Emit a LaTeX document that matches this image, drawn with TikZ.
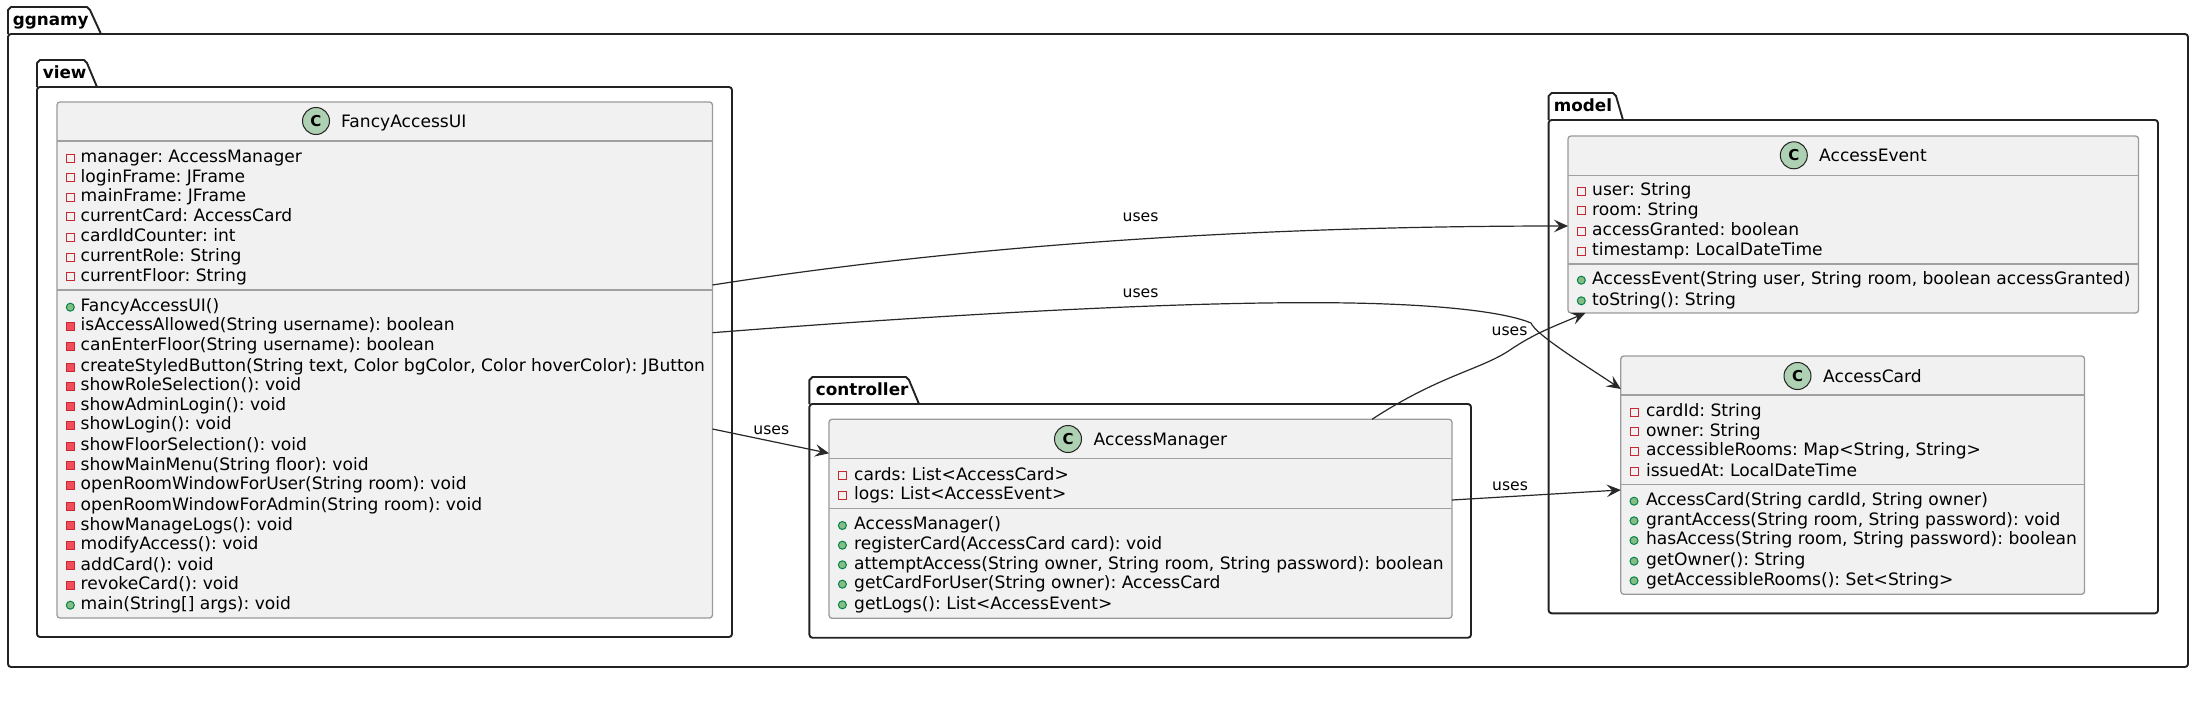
\documentclass[tikz,border=0pt]{standalone}
\usepackage{fontspec}
\setmainfont{DejaVu Sans}
\usetikzlibrary{arrows.meta}
\definecolor{pkgline}{HTML}{222222}
\definecolor{clsline}{HTML}{9A9A9A}
\definecolor{clsfill}{HTML}{F1F1F1}
\definecolor{sepline}{HTML}{A0A0A0}
\definecolor{cfill}{HTML}{ADD1B2}
\definecolor{privline}{HTML}{C82930}
\definecolor{privfill}{HTML}{F24D5C}
\definecolor{publine}{HTML}{038048}
\definecolor{pubfill}{HTML}{84BE84}
\definecolor{edge}{HTML}{282828}
\newcounter{mm}
\newcommand{\mem}[3]{\stepcounter{mm}%
  \node[#1] (ic\themm) at (\ix,#2+1.5) {};
  \node[memtext] (tx\themm) at (\tx,#2+5.7) {#3};}
\newcommand{\pkg}[9]{% name, title, left, tabtop, tabtopright, tabright, tabbottom, right, bottom
  \draw[pkgbox] (#3,#7) -- (#3,#4+3) -- (#3+3,#4) -- (#5-3,#4) -- (#5,#4+3) -- (#6,#7);
  \node[pkgbody,minimum width={#8-#3},minimum height={#9-#7}] (#1) at ({(#3+#8)/2},{(#7+#9)/2}) {};}
\newcommand{\cls}[7]{% name, left, right, top, bottom, head, sep
  \node[clsbox,minimum width={#3-#2},minimum height={#5-#4}] (#1) at ({(#2+#3)/2},{(#4+#5)/2}) {};
  \draw[sepstyle] (#1.west |- 0,#6) -- (#1.east |- 0,#6);
  \draw[sepstyle] (#1.west |- 0,#7) -- (#1.east |- 0,#7);}
\tikzset{
  pkgbox/.style={draw=pkgline,line width=1.9pt,line join=round},
  pkgbody/.style={draw=pkgline,line width=1.9pt,rounded corners=3pt,inner sep=0pt,outer sep=0pt},
  pkgtitle/.style={anchor=base west,inner sep=0pt,font=\fontsize{16.8}{20}\selectfont\bfseries,text=black},
  clsbox/.style={draw=clsline,fill=clsfill,line width=1.3pt,rounded corners=3pt,inner sep=0pt,outer sep=0pt},
  sepstyle/.style={draw=sepline,line width=1.3pt},
  cicon/.style={circle,draw=pkgline,fill=cfill,line width=1pt,minimum size=27pt,inner sep=0pt,font=\fontsize{15}{18}\selectfont\bfseries},
  clsname/.style={anchor=base west,inner sep=0pt,font=\fontsize{17.1}{20}\selectfont\frenchspacing,text=black},
  memtext/.style={anchor=base west,inner sep=0pt,font=\fontsize{17.1}{20}\selectfont\frenchspacing,text=black},
  pa/.style={rectangle,draw=privline,fill=none,line width=1pt,minimum size=8pt,inner sep=0pt},
  pm/.style={rectangle,draw=privline,fill=privfill,line width=1pt,minimum size=8pt,inner sep=0pt},
  um/.style={circle,draw=publine,fill=pubfill,line width=1pt,minimum size=8pt,inner sep=0pt},
  conn/.style={draw=edge,line width=1.2pt,-{Stealth[length=14pt,width=12.5pt,inset=5.5pt]}},
  edgelabel/.style={anchor=base,inner sep=0pt,font=\fontsize{15.6}{18}\selectfont,text=black},
}
\begin{document}
\begin{tikzpicture}[x=1pt,y=-1pt]
\useasboundingbox[fill=white] (0,0) rectangle (2212,704);
% packages
\pkg{ggnamy}{ggnamy}{8}{7}{90}{101}{34}{2188}{667}
\node[pkgtitle] (tggnamy) at (12.6,25) {ggnamy};
\pkg{view}{view}{37}{60}{87}{97}{87}{732}{637}
\node[pkgtitle] (tview) at (42.6,78.3) {view};
\pkg{controller}{controller}{809.4}{377}{909}{919}{404}{1471}{637.7}
\node[pkgtitle] (tcontroller) at (815.7,395) {controller};
\pkg{model}{model}{1548.6}{93}{1616}{1623}{120}{2158}{613.3}
\node[pkgtitle] (tmodel) at (1553.6,111) {model};
% classes
\cls{fancy}{57}{712.5}{102}{618}{141}{290}
\node[cicon] (cfancy) at (316,121) {C};
\node[clsname] (nfancy) at (341,127) {FancyAccessUI};
\def\ix{70.3}\def\tx{80.5}
\mem{pa}{156.7}{manager: AccessManager}
\mem{pa}{176.3}{loginFrame: JFrame}
\mem{pa}{195.8}{mainFrame: JFrame}
\mem{pa}{215.3}{currentCard: AccessCard}
\mem{pa}{235.7}{cardIdCounter: int}
\mem{pa}{255.7}{currentRole: String}
\mem{pa}{275.3}{currentFloor: String}
\mem{um}{305.7}{FancyAccessUI()}
\mem{pm}{325}{isAccessAllowed(String username): boolean}
\mem{pm}{344.7}{canEnterFloor(String username): boolean}
\mem{pm}{365.7}{createStyledButton(String text, Color bgColor, Color hoverColor): JButton}
\mem{pm}{385}{showRoleSelection(): void}
\mem{pm}{404.7}{showAdminLogin(): void}
\mem{pm}{424}{showLogin(): void}
\mem{pm}{444.7}{showFloorSelection(): void}
\mem{pm}{464.3}{showMainMenu(String floor): void}
\mem{pm}{483.7}{openRoomWindowForUser(String room): void}
\mem{pm}{504.7}{openRoomWindowForAdmin(String room): void}
\mem{pm}{524.3}{showManageLogs(): void}
\mem{pm}{543.7}{modifyAccess(): void}
\mem{pm}{564.3}{addCard(): void}
\mem{pm}{584}{revokeCard(): void}
\mem{um}{603.7}{main(String[] args): void}
\cls{manager}{829}{1452}{419.3}{618.3}{458.3}{508.3}
\node[cicon] (cmanager) at (1068,439) {C};
\node[clsname] (nmanager) at (1093.5,445) {AccessManager};
\def\ix{842.4}\def\tx{854}
\mem{pa}{474.3}{cards: List<AccessCard>}
\mem{pa}{493.7}{logs: List<AccessEvent>}
\mem{um}{524}{AccessManager()}
\mem{um}{543.7}{registerCard(AccessCard card): void}
\mem{um}{563.3}{attemptAccess(String owner, String room, String password): boolean}
\mem{um}{582.7}{getCardForUser(String owner): AccessCard}
\mem{um}{603.3}{getLogs(): List<AccessEvent>}
\cls{event}{1568}{2138.5}{136}{313}{175.3}{264}
\node[cicon] (cevent) at (1793.8,155.3) {C};
\node[clsname] (nevent) at (1819,161.3) {AccessEvent};
\def\ix{1581.3}\def\tx{1592}
\mem{pa}{190}{user: String}
\mem{pa}{209.3}{room: String}
\mem{pa}{230}{accessGranted: boolean}
\mem{pa}{249.7}{timestamp: LocalDateTime}
\mem{um}{278.7}{AccessEvent(String user, String room, boolean accessGranted)}
\mem{um}{299.3}{toString(): String}
\cls{card}{1620.8}{2084.5}{356}{594.3}{395}{484.3}
\node[cicon] (ccard) at (1797.5,376) {C};
\node[clsname] (ncard) at (1823,382) {AccessCard};
\def\ix{1634}\def\tx{1645.8}
\mem{pa}{411}{cardId: String}
\mem{pa}{430.3}{owner: String}
\mem{pa}{450}{accessibleRooms: Map<String, String>}
\mem{pa}{470.3}{issuedAt: LocalDateTime}
\mem{um}{499.7}{AccessCard(String cardId, String owner)}
\mem{um}{519.3}{grantAccess(String room, String password): void}
\mem{um}{539}{hasAccess(String room, String password): boolean}
\mem{um}{559.7}{getOwner(): String}
\mem{um}{579.3}{getAccessibleRooms(): Set<String>}
% connectors
\draw[conn] ([yshift=75pt]fancy.east) .. controls (1000,240) and (1300,226) .. ([yshift=-1.5pt]event.west |- 0,224.5);
\draw[conn] ([yshift=27.3pt]fancy.east) .. controls (900,318) and (1150,302) .. (1320,302.7) .. controls (1420,303) and (1500,310) .. (1531,323) .. controls (1536,335) and (1585,365) .. ([yshift=86.2pt]card.west);
\draw[conn] ([yshift=-69pt]fancy.east) -- ([yshift=65.5pt]manager.west);
\draw[conn] ([xshift=231.5pt]manager.north) .. controls (1440,375) and (1480,370) .. (1510,350) .. controls (1535,333) and (1555,326) .. ([xshift=17.4pt]event.south west);
\draw[conn] ([yshift=18.8pt]manager.east) -- ([yshift=-14.8pt]card.west);
% labels
\node[edgelabel] (l1) at (1140.5,221.8) {uses};
\node[edgelabel] (l2) at (1140.5,297.2) {uses};
\node[edgelabel] (l3) at (771.3,434.5) {uses};
\node[edgelabel] (l4) at (1509.5,335.5) {uses};
\node[edgelabel] (l5) at (1510,490.2) {uses};
\end{tikzpicture}
\end{document}
